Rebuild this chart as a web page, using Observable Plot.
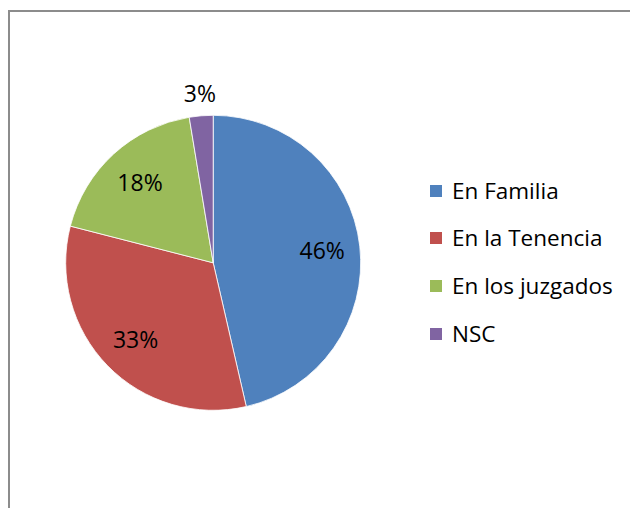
<!DOCTYPE html>
<html>
<head>
<meta charset="utf-8">
<script src="https://cdn.jsdelivr.net/npm/d3@7"></script>
<script src="https://cdn.jsdelivr.net/npm/@observablehq/plot@0.6"></script>
<style>
  html, body { margin: 0; padding: 0; background: #fff; }
  #wrap { position: relative; width: 630px; height: 508px; overflow: hidden; font-family: "Open Sans", sans-serif; }
  #frame { position: absolute; left: 8px; top: 10px; right: 0; bottom: 0; border-left: 2px solid #8c8c8c; border-top: 2px solid #8c8c8c; pointer-events: none; }
  #chart { position: absolute; left: 0; top: 0; }
  .lg { position: absolute; left: 430px; height: 22px; display: flex; align-items: center; font-size: 22.5px; line-height: 22px; color: #000; white-space: nowrap; }
  .lg .sw { width: 12px; height: 12px; margin-right: 10px; flex: none; }
</style>
</head>
<body>
<div id="wrap">
  <div id="chart"></div>
  <div id="frame"></div>
</div>
<script>
const categories = ["En Familia", "En la Tenencia", "En los juzgados", "NSC"];
const values = [46.4, 32.6, 18.4, 2.6];
const colors = ["#4F81BD", "#C0504D", "#9BBB59", "#8064A2"];

const rows = categories.map((c, i) => ({category: c, value: values[i], color: colors[i]}));
const arcs = d3.pie().sort(null).value(d => d.value)(rows);
const total = d3.sum(values);
const labels = arcs.map(a => {
  const mid = (a.startAngle + a.endAngle) / 2;
  const pct = a.data.value / total * 100;
  const k = pct < 5 ? 1.15 : 0.74;
  return {x: k * Math.sin(mid), y: k * Math.cos(mid), text: Math.round(pct) + "%"};
});

function pieMark(index, scales) {
  const cx = scales.x(0), cy = scales.y(0);
  const r = scales.x(1) - scales.x(0);
  const g = d3.create("svg:g").attr("transform", `translate(${cx},${cy})`);
  const arcGen = d3.arc().innerRadius(0).outerRadius(r);
  g.selectAll("path").data(arcs).join("path")
    .attr("d", arcGen)
    .attr("fill", d => d.data.color)
    .attr("stroke", "#fff")
    .attr("stroke-width", 0.8);
  return g.node();
}

const plot = Plot.plot({
  width: 630,
  height: 508,
  margin: 0,
  style: {fontFamily: "Open Sans, sans-serif", background: "transparent"},
  x: {domain: [-1, 1], range: [65.7, 360.7], axis: null},
  y: {domain: [-1, 1], range: [410.8, 114.8], axis: null},
  marks: [
    pieMark,
    Plot.text(labels, {x: "x", y: "y", text: "text", fontSize: 23, fill: "#000", textAnchor: "middle", dy: 1})
  ]
});
document.getElementById("chart").appendChild(plot);

const wrap = document.getElementById("wrap");
categories.forEach((c, i) => {
  const row = document.createElement("div");
  row.className = "lg";
  row.style.top = (190.5 + i * 47.8 - 11) + "px";
  const sw = document.createElement("span");
  sw.className = "sw";
  sw.style.background = colors[i];
  const tx = document.createElement("span");
  tx.textContent = c;
  row.appendChild(sw);
  row.appendChild(tx);
  wrap.appendChild(row);
});
</script>
</body>
</html>
